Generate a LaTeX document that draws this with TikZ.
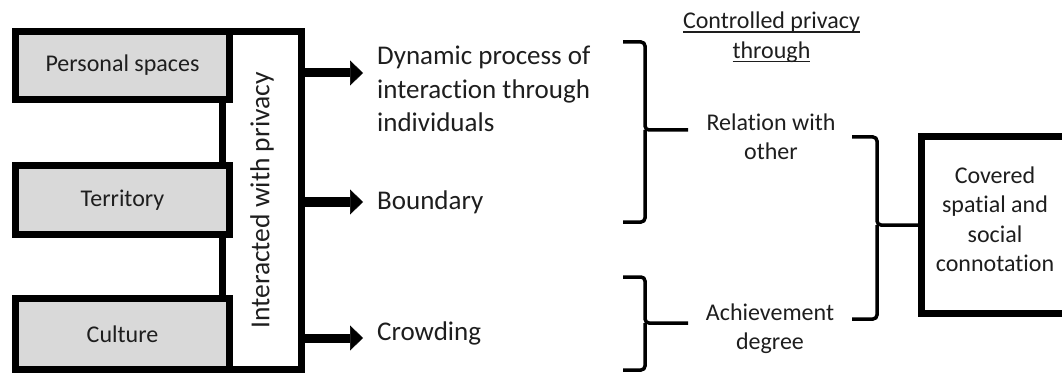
\documentclass[tikz,border=0pt]{standalone}
\usepackage{fontspec}
\setmainfont{Carlito}[Ligatures=NoCommon]
\usetikzlibrary{arrows.meta}
\definecolor{boxgray}{HTML}{D9D9D9}
\definecolor{inkgray}{HTML}{1E1E1E}
\newcommand{\myul}[1]{\setbox0\hbox{#1}\rlap{\rule[-3.6pt]{\wd0}{1.3pt}}\box0}
\begin{document}
\begin{tikzpicture}[x=1pt,y=-1pt,
  thickbox/.style={draw=black, line width=7pt, inner sep=0pt},
  graybox/.style={thickbox, fill=boxgray, minimum width=214pt, text=inkgray, font=\fontsize{24}{29}\selectfont},
  fatarrow/.style={line width=9pt, -{Triangle[length=13pt,width=25pt,line width=0.5pt]}},
  bracket/.style={line width=3.5pt, rounded corners=4pt},
  midtext/.style={inner sep=0pt, anchor=base west, text=inkgray, font=\fontsize{27}{33.5}\selectfont},
  righttext/.style={inner sep=0pt, anchor=base, text=inkgray, font=\fontsize{24}{29.5}\selectfont}]
\useasboundingbox (0,0) rectangle (1062,374);
\clip (0,0) rectangle (1062,374);

% vertical box
\node[thickbox, rotate=90, minimum width=338pt, minimum height=79pt, text=inkgray,
      font=\fontsize{27.5}{33}\selectfont] (inter) at (262,200.5) {Interacted with privacy};

% grey boxes
\node[graybox, minimum height=68pt] (pers) at (122.5,65.5) {Personal spaces};
\node[graybox, minimum height=69pt] (terr) at (122.5,200) {Territory};
\node[graybox, minimum height=71pt] (cult) at (122.5,334) {Culture};

% arrow tips
\coordinate (t1) at (363,73);
\coordinate (t2) at (363,202);
\coordinate (t3) at (363,338);
\draw[fatarrow] ([xshift=-2pt]inter.south |- t1) -- (t1);
\draw[fatarrow] ([xshift=-2pt]inter.south |- t2) -- (t2);
\draw[fatarrow] ([xshift=-2pt]inter.south |- t3) -- (t3);

% middle texts
\node[midtext] (dyn) at (377,65) {\begin{tabular}[t]{@{}l@{}}Dynamic process of\\interaction through\\individuals\end{tabular}};
\node[midtext] (bound) at (377,209) {Boundary};
\node[midtext] (crowd) at (377,340) {Crowding};

% right column texts
\node[righttext] (ctrl) at (771.5,29) {\begin{tabular}[t]{@{}c@{}}\myul{Controlled privacy}\\\myul{through}\end{tabular}};
\node[righttext] (rel) at (771,130.5) {\begin{tabular}[t]{@{}c@{}}Relation with\\other\end{tabular}};
\node[righttext] (ach) at (770,320) {\begin{tabular}[t]{@{}c@{}}Achievement\\degree\end{tabular}};

% covered box
\node[thickbox, minimum width=147pt, minimum height=177pt] (cov) at (995,225) {};
\node[righttext] (covtext) at (995,183) {\begin{tabular}[t]{@{}c@{}}Covered\\spatial and\\social\\connotation\end{tabular}};

% braces
\draw[bracket] (623,42) -| (645,130) -- (688,130);
\draw[bracket] (645,130) |- (623,222);
\draw[bracket] (623,277) -| (645,323) -- (688,323);
\draw[bracket] (645,323) |- (623,370);
\draw[bracket] (852,137) -| (877,225) -- (cov.west);
\draw[bracket] (877,225) |- (852,319);
\end{tikzpicture}
\end{document}
